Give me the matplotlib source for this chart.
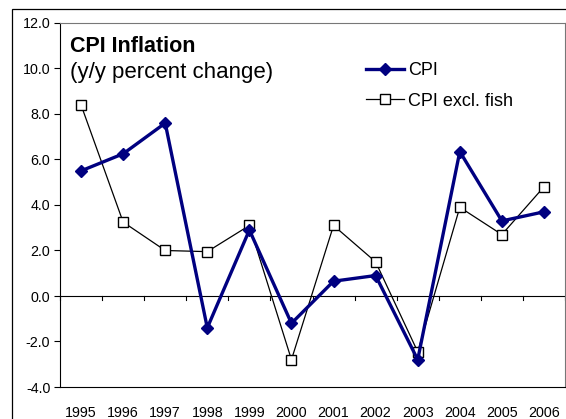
import matplotlib
matplotlib.use('Agg')
import matplotlib.pyplot as plt
from matplotlib.patches import Rectangle
import numpy as np

plt.rcParams['font.family'] = ['Liberation Sans', 'DejaVu Sans']

years = ['1995', '1996', '1997', '1998', '1999', '2000', '2001', '2002', '2003', '2004', '2005', '2006']
cpi = [5.5, 6.25, 7.6, -1.4, 2.9, -1.2, 0.65, 0.9, -2.8, 6.35, 3.3, 3.7]
cpi_excl_fish = [8.4, 3.25, 2.0, 1.95, 3.1, -2.8, 3.1, 1.5, -2.45, 3.9, 2.7, 4.8]
yticks = [-4.0, -2.0, 0.0, 2.0, 4.0, 6.0, 8.0, 10.0, 12.0]

W, H = 566, 419
fig = plt.figure(figsize=(W / 100, H / 100), dpi=100)
ax = fig.add_axes([60 / W, 1 - 387 / H, (565 - 60) / W, (387 - 23) / H])

x = np.arange(len(years))
ax.plot(x, cpi_excl_fish, color='black', lw=0.9, marker='s', markersize=7,
        markerfacecolor='white', markeredgecolor='black', markeredgewidth=1.0,
        label='CPI excl. fish', zorder=3)
ax.plot(x, cpi, color='#000080', lw=2.4, marker='D', markersize=6.5,
        markerfacecolor='#000080', markeredgecolor='#000080',
        label='CPI', zorder=4)

ax.set_xlim(-0.5, len(years) - 0.5)
ax.set_ylim(yticks[0], yticks[-1])
ax.set_yticks(yticks)
ax.set_yticklabels([f'{v:.1f}' for v in yticks], fontsize=10.3)
ax.tick_params(axis='y', direction='out', length=4, width=0.8, pad=3)

ax.set_xticks(x)
ax.set_xticklabels(years, fontsize=10.3)
ax.tick_params(axis='x', length=0, pad=14)

# zero line with category-boundary tick marks
ax.axhline(0, color='black', lw=0.8, zorder=2)
tick_len = 16 / 364 * 4
for b in np.arange(len(years) + 1) - 0.5:
    ax.plot([b, b], [0, -tick_len], color='black', lw=0.8, zorder=2, clip_on=False)

for side in ['left', 'bottom']:
    ax.spines[side].set_color('black')
    ax.spines[side].set_linewidth(0.8)
for side in ['top', 'right']:
    ax.spines[side].set_color('#777777')
    ax.spines[side].set_linewidth(0.8)

fig.text(70 / W, 1 - 52 / H, 'CPI Inflation', fontsize=15.5, fontweight='bold', va='baseline')
fig.text(70 / W, 1 - 78 / H, '(y/y percent change)', fontsize=16, va='baseline')

handles, labels = ax.get_legend_handles_labels()
ax.legend(handles[::-1], labels[::-1], loc='upper left', frameon=False,
          bbox_to_anchor=(366 / W, 1 - 62 / H), bbox_transform=fig.transFigure,
          fontsize=13, borderpad=0, borderaxespad=0, handlelength=2.1,
          handletextpad=0.25, labelspacing=0.75)

# outer chart border
fig.patches.append(Rectangle((12 / W, -0.1), 2, 1.1 - 9 / H, transform=fig.transFigure,
                             fill=False, edgecolor='black', lw=0.9))

fig.savefig('out.png', dpi=100)
